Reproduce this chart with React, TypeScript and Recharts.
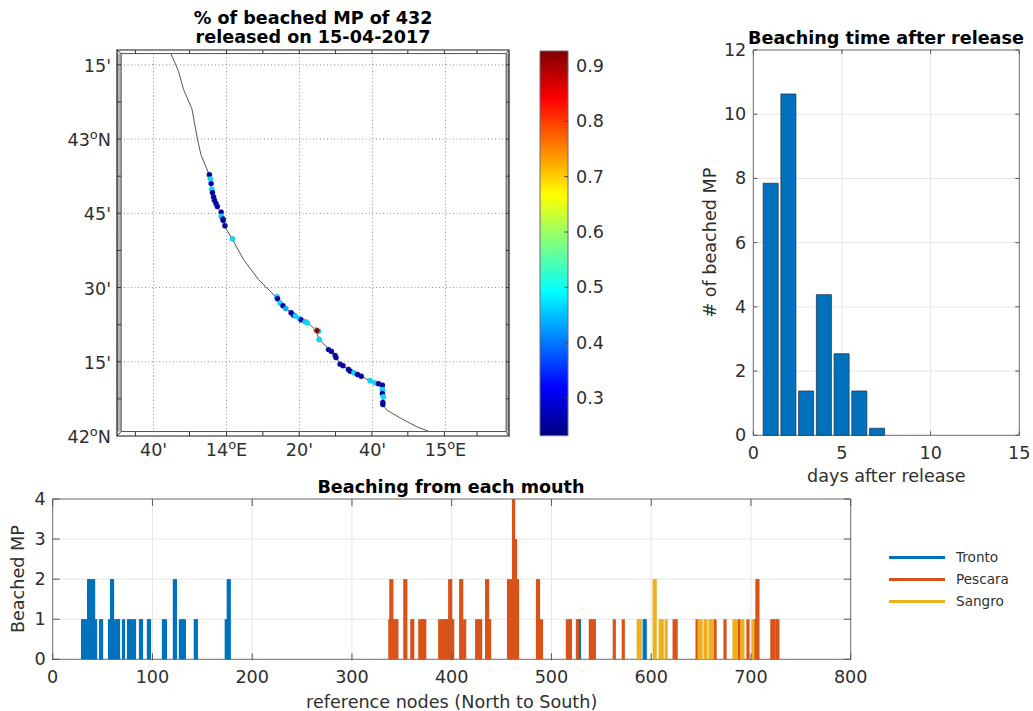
import React from "react";
import {
  BarChart, Bar, CartesianGrid, ReferenceArea, ReferenceLine, Scatter, ScatterChart, XAxis, YAxis,
} from "recharts";

// ---------- map ----------
const coastLon = [13.747,13.781,13.804,13.842,13.868,13.883,13.921,13.933,13.956,13.979,13.991,14.027,14.078,14.146,14.23,14.26,14.299,14.337,14.382,14.408,14.423,14.466,14.5,14.516,14.56,14.611,14.656,14.714,14.714,14.732,14.793,14.869,14.922];
const coastLat = [43.287,43.228,43.167,43.102,42.998,42.948,42.88,42.83,42.774,42.746,42.706,42.662,42.594,42.527,42.465,42.437,42.412,42.395,42.375,42.355,42.325,42.294,42.271,42.243,42.223,42.203,42.185,42.171,42.106,42.087,42.061,42.031,42.016];
const dotLon = [13.922,13.926,13.93,13.933,13.936,13.941,13.945,13.952,13.958,13.976,13.976,13.984,13.985,13.993,14.027,14.23,14.233,14.245,14.258,14.271,14.295,14.306,14.314,14.333,14.341,14.359,14.368,14.42,14.408,14.413,14.423,14.466,14.479,14.496,14.5,14.519,14.532,14.557,14.565,14.582,14.598,14.615,14.656,14.678,14.694,14.712,14.712,14.712,14.716,14.714,14.714];
const dotLat = [42.88,42.866,42.85,42.831,42.819,42.805,42.794,42.783,42.773,42.754,42.74,42.731,42.726,42.708,42.664,42.469,42.462,42.448,42.439,42.429,42.415,42.407,42.404,42.396,42.391,42.385,42.381,42.353,42.358,42.355,42.325,42.291,42.285,42.271,42.264,42.242,42.237,42.224,42.218,42.213,42.207,42.201,42.186,42.179,42.176,42.171,42.157,42.143,42.132,42.113,42.106];
const dotVal = [0.25,0.47,0.27,0.47,0.25,0.25,0.25,0.25,0.27,0.25,0.47,0.25,0.25,0.25,0.47,0.47,0.25,0.47,0.25,0.44,0.25,0.25,0.47,0.47,0.27,0.47,0.47,0.47,0.62,0.92,0.47,0.25,0.25,0.25,0.25,0.25,0.25,0.25,0.25,0.47,0.25,0.25,0.47,0.47,0.25,0.25,0.47,0.25,0.47,0.25,0.25];
const lonTicks = [13.667,14,14.333,14.667,15];
const lonLabels = ["40'","14oE","20'","40'","15oE"];
const latTicks = [43.25,43,42.75,42.5,42.25,42];
const latLabels = ["15'","43oN","45'","30'","15'","42oN"];
const frameLon = [13.584,13.831,14,14.166,14.332,14.498,14.664,14.828,14.995,15.144];
const frameLat = [43.25,43.125,43,42.875,42.75,42.625,42.5,42.375,42.25,42.125];

// ---------- colour bar ----------
const barTicks = [0.3,0.4,0.5,0.6,0.7,0.8,0.9];
const barRange = [0.232,0.927];

// ---------- beaching time ----------
const days = [1,2,3,4,5,6,7];
const dayCounts = [7.85,10.63,1.38,4.38,2.54,1.38,0.22];

// ---------- beaching per mouth ----------
const trontoNodes = [30,31,33,36,37,40,41,43,48,49,57,59,60,62,65,66,71,76,77,80,82,88,89,96,97,111,113,122,123,128,130,132,143,144,174,176,177,396,528,593,594];
const trontoCounts = [1,1,1,2,2,2,2,1,1,1,1,2,2,1,1,1,1,1,1,1,1,1,1,1,1,1,1,2,2,1,1,1,1,1,1,2,2,1,1,1,1];
const pescaraNodes = [338,339,340,342,344,345,353,354,360,361,368,370,372,373,388,390,392,394,395,398,399,401,409,410,413,425,427,429,435,436,438,457,459,462,464,466,486,487,490,516,518,519,526,539,541,543,563,572,623,625,646,664,674,688,697,704,706,707,721,723,726,727];
const pescaraCounts = [1,2,2,1,1,1,2,2,1,1,1,1,1,1,1,1,1,1,1,2,2,1,2,2,1,1,1,1,2,2,1,2,2,4,3,2,2,2,1,1,1,1,1,1,1,1,1,1,1,1,1,1,1,1,1,1,2,2,1,1,1,1];
const sangroNodes = [587,589,603,604,609,611,615,648,650,654,655,659,661,683,685,691,692,702];
const sangroCounts = [1,1,2,2,1,1,1,1,1,1,1,1,1,1,1,1,1,1];
const seriesNames = ["Tronto","Pescara","Sangro"];
const seriesColors = ["#0072bd","#d95319","#edb120"];

const FONT = "'DejaVu Sans', sans-serif";
const FS = 17.6;
const TXT = "#2f2f2f";
const FRAME = "#737373";
const GRID = "#e6e6e6";
const TICK = "#555";

const jetStops: [number,string][] = [[0,"#800000"],[0.125,"#ff0000"],[0.375,"#ffff00"],[0.625,"#00ffff"],[0.875,"#0000ff"],[1,"#000080"]];
function jet(v: number) {
  const t = (v - barRange[0]) / (barRange[1] - barRange[0]);
  const c = (x: number) => Math.round(255 * Math.max(0, Math.min(1, x)));
  const r = Math.min(4 * t - 1.5, -4 * t + 4.5);
  const g = Math.min(4 * t - 0.5, -4 * t + 3.5);
  const b = Math.min(4 * t + 0.5, -4 * t + 2.5);
  return `rgb(${c(r)},${c(g)},${c(b)})`;
}

const coast = coastLon.map((lon, i) => ({ lon, lat: coastLat[i] }));
const dots = dotLon.map((lon, i) => ({ lon, lat: dotLat[i], v: dotVal[i] }));

const mouthRows = (() => {
  const m = new Map<number, any>();
  const add = (ns: number[], cs: number[], name: string) =>
    ns.forEach((n, i) => { const r = m.get(n) ?? { node: n }; r[name] = cs[i]; m.set(n, r); });
  add(trontoNodes, trontoCounts, seriesNames[0]);
  add(pescaraNodes, pescaraCounts, seriesNames[1]);
  add(sangroNodes, sangroCounts, seriesNames[2]);
  return [...m.values()].sort((a, b) => a.node - b.node);
})();
const timeRows = days.map((d, i) => ({ d, n: dayCounts[i] }));

function xTick(top: number, bottom: number, len: number, labelY: number) {
  return (p: any) => (
    <g>
      <line x1={p.x} x2={p.x} y1={bottom} y2={bottom - len} stroke={TICK} />
      <line x1={p.x} x2={p.x} y1={top} y2={top + len} stroke={TICK} />
      <text x={p.x} y={labelY} textAnchor="middle" dominantBaseline="central" fontFamily={FONT} fontSize={FS} fill={TXT}>{p.payload.value}</text>
    </g>
  );
}
function yTick(left: number, right: number, len: number) {
  return (p: any) => (
    <g>
      <line y1={p.y} y2={p.y} x1={left} x2={left + len} stroke={TICK} />
      <line y1={p.y} y2={p.y} x1={right} x2={right - len} stroke={TICK} />
      <text x={left - 7} y={p.y} textAnchor="end" dominantBaseline="central" fontFamily={FONT} fontSize={FS} fill={TXT}>{p.payload.value}</text>
    </g>
  );
}
function mapLabel(label: string, x: number, y: number, anchor: string) {
  const m = label.match(/^(\d+)o([EN])$/);
  return (
    <text x={x} y={y} textAnchor={anchor} dominantBaseline="central" fontFamily={FONT} fontSize={FS} fill={TXT}>
      {m ? <>{m[1]}<tspan dy={-6} fontSize={13}>o</tspan><tspan dy={6}>{m[2]}</tspan></> : label}
    </text>
  );
}
const wideBar = (fill: string) => (p: any) =>
  p.height ? <rect x={p.x + p.width / 2 - 1.6} y={p.y} width={3.2} height={p.height} fill={fill} /> : <g />;

const titleStyle = (left: number, top: number, width: number): React.CSSProperties => ({
  position: "absolute", left, top, width, textAlign: "center", fontFamily: FONT, fontWeight: "bold",
  fontSize: FS, lineHeight: "19px", color: "#000", whiteSpace: "nowrap",
});

const LON0 = 13.5, LON1 = 15.29, LAT0 = 42, LAT1 = 43.3;
const ILON0 = 13.519, ILON1 = 15.277, ILAT0 = 42.015, ILAT1 = 43.288;

export default function App() {
  return (
    <div style={{ position: "absolute", left: 0, top: 0, width: 1033, height: 711, background: "#fff", overflow: "hidden" }}>
      {/* map */}
      <div style={titleStyle(113, 9, 400)}>% of beached MP of 432<br />released on 15-04-2017</div>
      <div style={{ position: "absolute", left: 0, top: 0 }}>
        <ScatterChart width={530} height={470} margin={{ top: 50, right: 21, bottom: 0, left: 0 }}>
          <CartesianGrid stroke="#8f8f8f" strokeDasharray="1 2.5" />
          <XAxis type="number" dataKey="lon" domain={[LON0, LON1]} ticks={lonTicks} height={34} axisLine={false} tickLine={false}
            interval={0}
            tick={(p: any) => mapLabel(lonLabels[lonTicks.indexOf(p.payload.value)], p.x, 450, "middle")} />
          <YAxis type="number" dataKey="lat" domain={[LAT0, LAT1]} ticks={latTicks} width={117} axisLine={false} tickLine={false}
            interval={0}
            tick={(p: any) => mapLabel(latLabels[latTicks.indexOf(p.payload.value)], 111, p.y + 1, "end")} />
          <ReferenceArea x1={LON0} x2={ILON0} y1={LAT0} y2={LAT1} fill="#b4b4b4" fillOpacity={1} stroke="none" />
          <ReferenceArea x1={ILON1} x2={LON1} y1={LAT0} y2={LAT1} fill="#b4b4b4" fillOpacity={1} stroke="none" />
          <ReferenceArea x1={LON0} x2={LON1} y1={ILAT1} y2={LAT1} fill="#fff" fillOpacity={1} stroke="none" />
          <ReferenceArea x1={LON0} x2={LON1} y1={LAT0} y2={ILAT0} fill="#fff" fillOpacity={1} stroke="none" />
          <ReferenceArea x1={ILON0} x2={ILON1} y1={ILAT0} y2={ILAT1} fill="none" stroke="#555" strokeWidth={1} />
          <ReferenceArea x1={LON0} x2={LON1} y1={LAT0} y2={LAT1} fill="none" stroke="#222" strokeWidth={1.2} />
          {frameLon.map((v) => (
            <ReferenceLine key={"ft" + v} segment={[{ x: v, y: ILAT1 }, { x: v, y: LAT1 }]} stroke="#333" />
          ))}
          {frameLon.map((v) => (
            <ReferenceLine key={"fb" + v} segment={[{ x: v, y: LAT0 }, { x: v, y: ILAT0 }]} stroke="#333" />
          ))}
          {frameLat.map((v) => (
            <ReferenceLine key={"fl" + v} segment={[{ x: LON0, y: v }, { x: ILON0, y: v }]} stroke="#333" />
          ))}
          {frameLat.map((v) => (
            <ReferenceLine key={"fr" + v} segment={[{ x: ILON1, y: v }, { x: LON1, y: v }]} stroke="#333" />
          ))}
          <ReferenceLine segment={[{ x: LON0, y: LAT1 }, { x: ILON0, y: ILAT1 }]} stroke="#333" />
          <ReferenceLine segment={[{ x: LON1, y: LAT1 }, { x: ILON1, y: ILAT1 }]} stroke="#333" />
          <ReferenceLine segment={[{ x: LON0, y: LAT0 }, { x: ILON0, y: ILAT0 }]} stroke="#333" />
          <ReferenceLine segment={[{ x: LON1, y: LAT0 }, { x: ILON1, y: ILAT0 }]} stroke="#333" />
          <Scatter data={coast} isAnimationActive={false} line={{ stroke: "#555", strokeWidth: 1 }} shape={() => <g />} />
          <Scatter data={dots} isAnimationActive={false}
            shape={(p: any) => <circle cx={p.cx} cy={p.cy} r={2.7} fill={jet(p.payload.v)} stroke="rgba(110,110,190,0.3)" strokeWidth={0.8} />} />
        </ScatterChart>
      </div>

      {/* colour bar */}
      <div style={{ position: "absolute", left: 530, top: 40 }}>
        <BarChart width={90} height={410} data={[{ c: "cb", v: barRange }]} barCategoryGap={0}
          margin={{ top: 11, right: 0, bottom: 14.3, left: 10 }}>
          <defs>
            <linearGradient id="jetGrad" x1="0" y1="0" x2="0" y2="1">
              {jetStops.map(([o, c]) => <stop key={o} offset={o} stopColor={c} />)}
            </linearGradient>
          </defs>
          <XAxis dataKey="c" hide />
          <YAxis orientation="right" type="number" width={51.7} domain={barRange} ticks={barTicks} axisLine={false} tickLine={false} interval={0}
            tick={(p: any) => (
              <g>
                <line x1={34.3} x2={38.3} y1={p.y} y2={p.y} stroke="#444" />
                <text x={46} y={p.y} dominantBaseline="central" fontFamily={FONT} fontSize={FS} fill={TXT}>{p.payload.value}</text>
              </g>
            )} />
          <Bar dataKey="v" fill="url(#jetGrad)" stroke="#6a6a80" strokeWidth={1} isAnimationActive={false} />
        </BarChart>
      </div>

      {/* beaching time */}
      <div style={titleStyle(736, 29, 300)}>Beaching time after release</div>
      <div style={{ position: "absolute", left: 690, top: 0 }}>
        <BarChart width={343} height={490} data={timeRows} margin={{ top: 50, right: 13.7, bottom: 0, left: 0 }}>
          <CartesianGrid stroke={GRID} />
          <XAxis type="number" dataKey="d" domain={[0, 15]} ticks={[0, 5, 10, 15]} height={54.7} axisLine={false} tickLine={false} interval={0}
            tick={xTick(50, 435.3, 4, 453)}
            label={{ value: "days after release", position: "insideBottom", offset: 8, fontFamily: FONT, fontSize: FS, fill: TXT }} />
          <YAxis type="number" domain={[0, 12]} ticks={[0, 2, 4, 6, 8, 10, 12]} width={63.3} axisLine={false} tickLine={false} interval={0}
            tick={yTick(63.3, 329.3, 4)}
            label={{ value: "# of beached MP", angle: -90, position: "insideLeft", offset: 20, fontFamily: FONT, fontSize: FS, fill: TXT, style: { textAnchor: "middle" } }} />
          <Bar dataKey="n" fill="#0072bd" stroke="#1c3a55" strokeWidth={0.8} barSize={15} isAnimationActive={false} />
          <ReferenceArea x1={0} x2={15} y1={0} y2={12} fill="none" stroke={FRAME} />
        </BarChart>
      </div>

      {/* beaching from each mouth */}
      <div style={titleStyle(251, 478, 400)}>Beaching from each mouth</div>
      <div style={{ position: "absolute", left: 0, top: 490 }}>
        <BarChart width={1033} height={221} data={mouthRows} margin={{ top: 9, right: 182.3, bottom: 0, left: 0 }}>
          <CartesianGrid stroke={GRID} />
          <XAxis type="number" dataKey="node" domain={[0, 800]} ticks={[0, 100, 200, 300, 400, 500, 600, 700, 800]} height={51.7} axisLine={false} tickLine={false} interval={0}
            tick={xTick(9, 170.3, 7, 187)}
            label={{ value: "reference nodes (North to South)", position: "insideBottom", offset: 3, fontFamily: FONT, fontSize: FS, fill: TXT }} />
          <YAxis type="number" domain={[0, 4]} ticks={[0, 1, 2, 3, 4]} width={52.7} axisLine={false} tickLine={false} interval={0}
            tick={yTick(52.7, 850.7, 7)}
            label={{ value: "Beached MP", angle: -90, position: "insideLeft", offset: 18, fontFamily: FONT, fontSize: FS, fill: TXT, style: { textAnchor: "middle" } }} />
          {seriesNames.map((s, i) => (
            <Bar key={s} dataKey={s} stackId="m" fill={seriesColors[i]} isAnimationActive={false} shape={wideBar(seriesColors[i])} />
          ))}
          <ReferenceArea x1={0} x2={800} y1={0} y2={4} fill="none" stroke={FRAME} />
        </BarChart>
      </div>

      {/* legend */}
      <div style={{ position: "absolute", left: 889, top: 546, fontFamily: FONT, fontSize: 13.6, color: TXT }}>
        {seriesNames.map((s, i) => (
          <div key={s} style={{ display: "flex", alignItems: "center", height: 22 }}>
            <span style={{ width: 56, height: 3, background: seriesColors[i], marginRight: 11 }} />
            <span>{s}</span>
          </div>
        ))}
      </div>
    </div>
  );
}
